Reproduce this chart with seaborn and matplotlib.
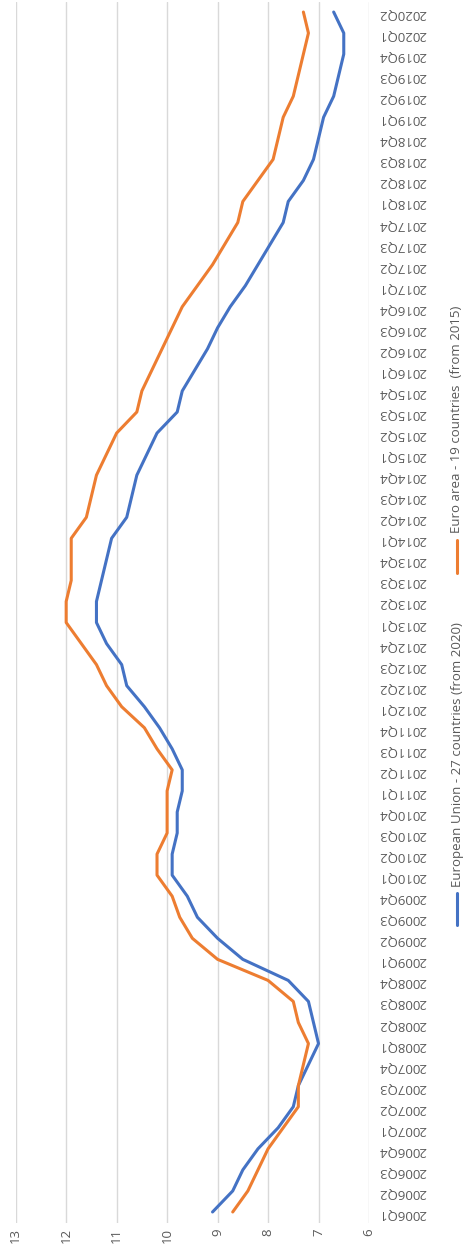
import numpy as np
import pandas as pd
import matplotlib
matplotlib.use("Agg")
import matplotlib.pyplot as plt
from matplotlib.lines import Line2D
import seaborn as sns

quarters = [f"{y}Q{q}" for y in range(2006, 2021) for q in range(1, 5)][:58]

eu27 = [9.1, 8.7, 8.5, 8.2,
        7.8, 7.5, 7.4, 7.2,
        7.0, 7.1, 7.2, 7.6,
        8.5, 9.0, 9.4, 9.6,
        9.9, 9.9, 9.8, 9.8,
        9.7, 9.7, 9.9, 10.15,
        10.45, 10.8, 10.9, 11.2,
        11.4, 11.4, 11.3, 11.2,
        11.1, 10.8, 10.7, 10.6,
        10.4, 10.2, 9.8, 9.7,
        9.45, 9.2, 9.0, 8.75,
        8.45, 8.2, 7.95, 7.7,
        7.6, 7.3, 7.1, 7.0,
        6.9, 6.7, 6.6, 6.5,
        6.5, 6.7]

ea19 = [8.7, 8.4, 8.2, 8.0,
        7.7, 7.4, 7.4, 7.3,
        7.2, 7.4, 7.5, 8.0,
        9.0, 9.5, 9.75, 9.9,
        10.2, 10.2, 10.0, 10.0,
        10.0, 9.9, 10.2, 10.45,
        10.9, 11.2, 11.4, 11.7,
        12.0, 12.0, 11.9, 11.9,
        11.9, 11.6, 11.5, 11.4,
        11.2, 11.0, 10.6, 10.5,
        10.3, 10.1, 9.9, 9.7,
        9.4, 9.1, 8.85, 8.6,
        8.5, 8.2, 7.9, 7.8,
        7.7, 7.5, 7.4, 7.3,
        7.2, 7.3]

series_names = ["European Union - 27 countries (from 2020)",
                "Euro area - 19 countries  (from 2015)"]
series_colors = ["#4472C4", "#ED7D31"]
value_ticks = [6, 7, 8, 9, 10, 11, 12, 13]

sns.set_theme(style="white")
plt.rcParams['font.family'] = ['Open Sans', 'DejaVu Sans']

W, H = 466, 1252
fig = plt.figure(figsize=(W / 100, H / 100), dpi=100)
ax_left, ax_right = 15.7, 369.0
ax_top, ax_bot = 1.5, 1222.5
ax = fig.add_axes([ax_left / W, 1 - ax_bot / H, (ax_right - ax_left) / W, (ax_bot - ax_top) / H])

idx = np.arange(len(quarters))
df = pd.DataFrame({"idx": np.concatenate([idx, idx]),
                   "value": eu27 + ea19,
                   "series": [series_names[0]] * len(eu27) + [series_names[1]] * len(ea19)})

sns.lineplot(data=df, x="value", y="idx", hue="series", orient="y", sort=False,
             palette=dict(zip(series_names, series_colors)), linewidth=2.2,
             legend=False, ax=ax)

ax.set_xlim(13, 6)
ax.set_ylim(-0.5, len(quarters) - 0.5)
ax.set_xticks(value_ticks)
ax.set_xticklabels([str(v) for v in value_ticks], rotation=90, color="#595959", fontsize=9.5)
ax.set_yticks(idx)
ax.set_yticklabels(quarters, rotation=180, color="#595959", fontsize=9.5)
ax.yaxis.tick_right()
ax.tick_params(axis="y", length=0, pad=7)
ax.tick_params(axis="x", length=0, pad=4)
ax.grid(axis="x", color="#d9d9d9", linewidth=1.0)
ax.grid(axis="y", visible=False)
for s in ax.spines.values():
    s.set_visible(False)
ax.set_xlabel("")
ax.set_ylabel("")

# legend (rotated, drawn manually)
def fy(py):
    return 1 - py / H

lx = 457 / W
fig.add_artist(Line2D([lx, lx], [fy(925), fy(893)], color=series_colors[0], linewidth=2.2))
fig.text(lx, fy(887), series_names[0], rotation=90, ha="center", va="bottom",
         color="#595959", fontsize=9.5)
fig.add_artist(Line2D([lx, lx], [fy(573), fy(540)], color=series_colors[1], linewidth=2.2))
fig.text(lx, fy(533), series_names[1], rotation=90, ha="center", va="bottom",
         color="#595959", fontsize=9.5)

fig.savefig("out.png", dpi=100, facecolor="white")
